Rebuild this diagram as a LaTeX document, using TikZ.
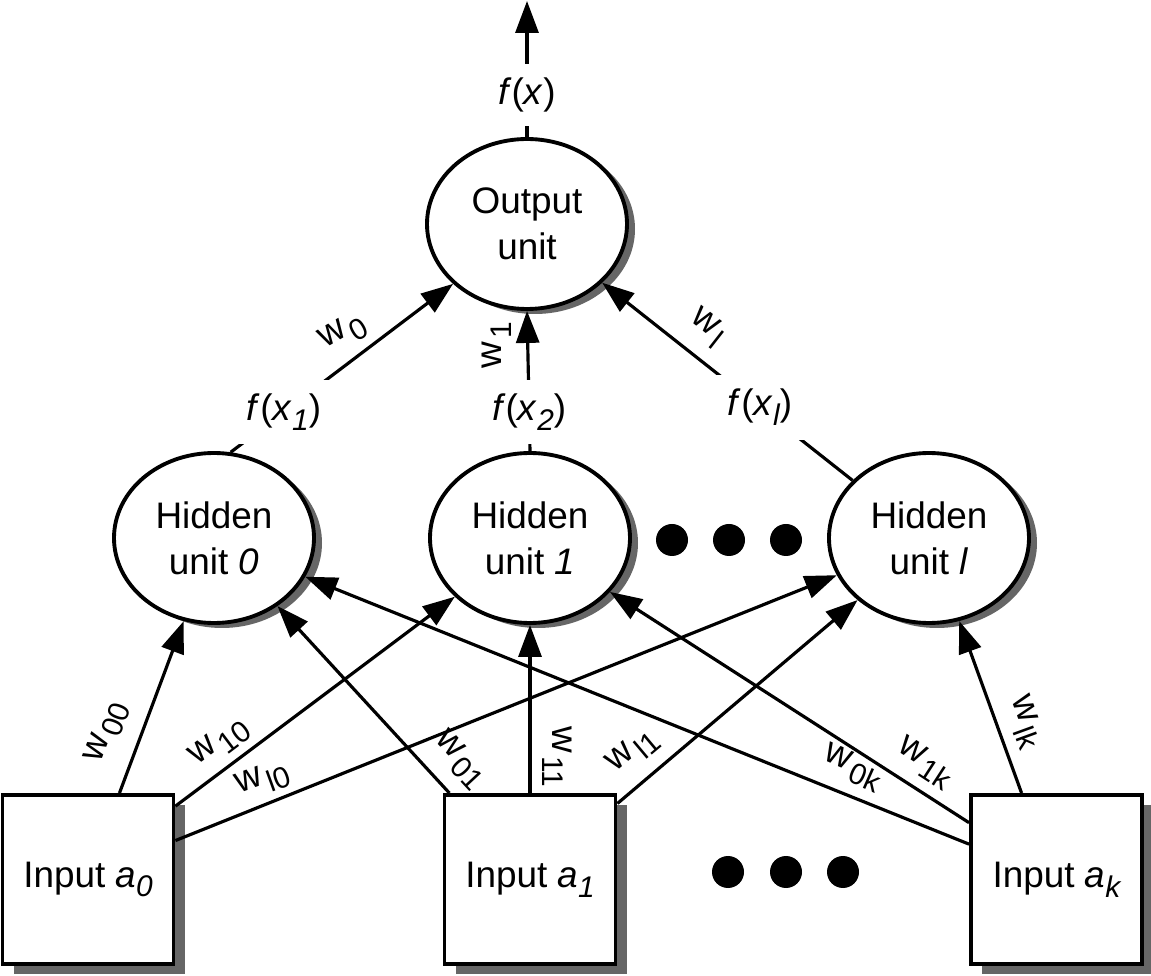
\documentclass[tikz,border=0pt]{standalone}
\usepackage{fontspec}
\setmainfont{Liberation Sans}
\usetikzlibrary{arrows.meta,shapes.geometric,shadows}

\newcommand{\sub}[1]{\raisebox{-0.5ex}{\fontsize{8.5}{9}\selectfont #1}}
\newcommand{\wgt}[1]{w\kern1pt\sub{#1}}
\newcommand{\fout}[1]{\textit{f}(\textit{x}\sub{\itshape #1})}

\begin{document}
\begin{tikzpicture}[
  font=\fontsize{10.5}{13}\selectfont,
  unit/.style={ellipse,draw,line width=1.1pt,fill=white,minimum width=2cm,minimum height=1.7cm,inner sep=0pt,align=center,
    drop shadow={shadow xshift=0.08cm,shadow yshift=-0.05cm,fill=black!60,opacity=1}},
  inbox/.style={rectangle,draw,line width=1.1pt,fill=white,minimum width=1.71cm,minimum height=1.69cm,inner sep=0pt,
    drop shadow={shadow xshift=0.11cm,shadow yshift=-0.1cm,fill=black!60,opacity=1}},
  dot/.style={circle,fill=black,minimum size=3.2mm,inner sep=0pt},
  conn/.style={line width=0.9pt,-{Triangle[length=3.2mm,width=2.3mm]}},
  flab/.style={fill=white,inner sep=4pt},
  wlab/.style={inner sep=0pt}
]
  \useasboundingbox (0,0) rectangle (11.51,9.75);
  % units and inputs
  \node[unit] (out) at (5.27,7.51) {Output\\unit};
  \node[unit] (h0) at (2.14,4.37) {Hidden\\unit \textit{0}};
  \node[unit] (h1) at (5.30,4.37) {Hidden\\unit \textit{1}};
  \node[unit] (hl) at (9.29,4.37) {Hidden\\unit \textit{l}};
  \node[inbox] (a0) at (0.88,0.955) {Input \textit{a}\sub{\itshape 0}};
  \node[inbox] (a1) at (5.30,0.955) {Input \textit{a}\sub{\itshape 1}};
  \node[inbox] (ak) at (10.565,0.955) {Input \textit{a}\sub{\itshape k}};
  \coordinate (top) at (5.27,9.74);
  % ellipsis dots
  \foreach \x [count=\i] in {6.72,7.29,7.86} \node[dot] (hd\i) at (\x,4.35) {};
  \foreach \x [count=\i] in {7.28,7.86,8.43} \node[dot] (id\i) at (\x,1.03) {};
  % input -> hidden: source/anchor/target/anchor
  \foreach \src/\sa/\dst/\da in {%
    a0/70/h0/250, a0/40/h1/218, a0/24/hl/202,
    a1/133/h0/313, a1/90/h1/270, a1/41/hl/221,
    ak/158/h0/337, ak/147/h1/326, ak/112/hl/290%
  }{
    \draw[conn] (\src.\sa) -- (\dst.\da);
  }
  % hidden -> output
  \draw[conn] (h0.79) -- node[flab,pos=0.24] (fx1) {\fout{1}} (out.219);
  \draw[conn] (h1.north) -- node[flab,pos=0.28] (fx2) {\fout{2}} (out.south);
  \draw[conn] (hl.143) -- node[flab,pos=0.37] (fxl) {\fout{l}} (out.322);
  \draw[conn] (out.north) -- node[flab,pos=0.31] (fx) {\textit{f}(\textit{x})} (top);
  % weights: x, y, angle, index
  \foreach \x/\y/\r/\ix in {%
    1.07/2.43/69/00, 2.20/2.32/37/10, 2.63/1.95/20/l0,
    4.60/2.15/-47/01, 5.57/2.18/-90/11, 6.33/2.23/40/l1,
    8.53/2.07/-24/0k, 9.25/2.12/-33/1k, 10.25/2.53/-70/lk,
    3.43/6.42/30/0, 4.97/6.30/90/1, 7.07/6.47/-38/l%
  }{
    \node[wlab,rotate=\r] (w\ix) at (\x,\y) {\wgt{\ix}};
  }
\end{tikzpicture}
\end{document}
